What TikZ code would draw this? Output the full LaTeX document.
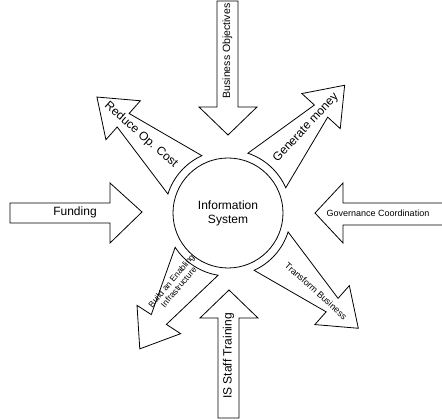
\documentclass[tikz,border=0pt]{standalone}
\usepackage{fontspec}
\setmainfont{Liberation Sans}
\usetikzlibrary{calc}
% one tapered block arrow leaving the circle: [style](centre:angle:tip distance)
\def\spoke[#1](#2:#3:#4){\begin{scope}[shift={(#2)}, rotate=#3]
	\draw[#1] (24:63) -- ({#4-35}, 9) -- ({#4-35}, 26) -- (#4, 0) -- ({#4-35}, -26) -- ({#4-35}, -9) -- (-24:63) arc[start angle=-24, end angle=24, radius=63] -- cycle;
	\end{scope}}
\def\big{\fontsize{12}{14}\selectfont}
\def\small{\fontsize{9}{10.5}\selectfont}

\begin{document}
\begin{tikzpicture}[x=1pt, y=1pt, line width=0.8pt, line join=miter]
			%%%%% START %%%%%
			
			\useasboundingbox (0, 0) rectangle (442, 420);
			
			\coordinate (ctr) at (228, 207);
			\draw (ctr) circle (55);
			\node[align=center, font=\big] (infosys) at (ctr) {Information\\System};
			
			% arrows going in
			\draw (217, 419) -- (217, 313) -- (199, 313) -- (228, 285) -- (257, 313) -- (238, 313) -- (238, 419) -- cycle;
			\node[rotate=90, font=\fontsize{10.5}{12}\selectfont] (busobj) at (227.5, 369) {Business Objectives};
			
			\draw (218, 2) -- (218, 102) -- (200, 102) -- (229, 130) -- (258, 102) -- (239, 102) -- (239, 2) -- cycle;
			\node[rotate=90, font=\big] (staff) at (228.5, 64) {IS Staff Training};
			
			\draw (10, 217) -- (110, 217) -- (110, 237) -- (142, 208) -- (110, 177) -- (110, 197) -- (10, 197) -- cycle;
			\node[font=\big] (funding) at (75, 208) {Funding};
			
			\draw (442, 217) -- (343, 217) -- (343, 237) -- (315, 207) -- (343, 177) -- (343, 195) -- (442, 195);
			\node[font=\small] (govern) at (378, 207) {Governance Coordination};
			
			% arrows going out
			\spoke[](ctr:138.5:175)
			\node[rotate=-41.5, font=\big] (reduce) at (141, 285) {Reduce Op. Cost};
			
			\spoke[](ctr:47.6:173)
			\node[rotate=47, font=\big] (money) at (306, 292) {Generate money};
			
			\spoke[](ctr:-41.5:174)
			\node[rotate=-42, font=\small] (transform) at (316, 129) {Transform Business};
			
			\spoke[](ctr:-123:162)
			\node[rotate=50, align=center, font=\fontsize{8.5}{9.5}\selectfont] (infra) at (175, 136) {Build an Enabling\\Infrastructure};
			
			%%%%% END %%%%%
		\end{tikzpicture}
\end{document}
